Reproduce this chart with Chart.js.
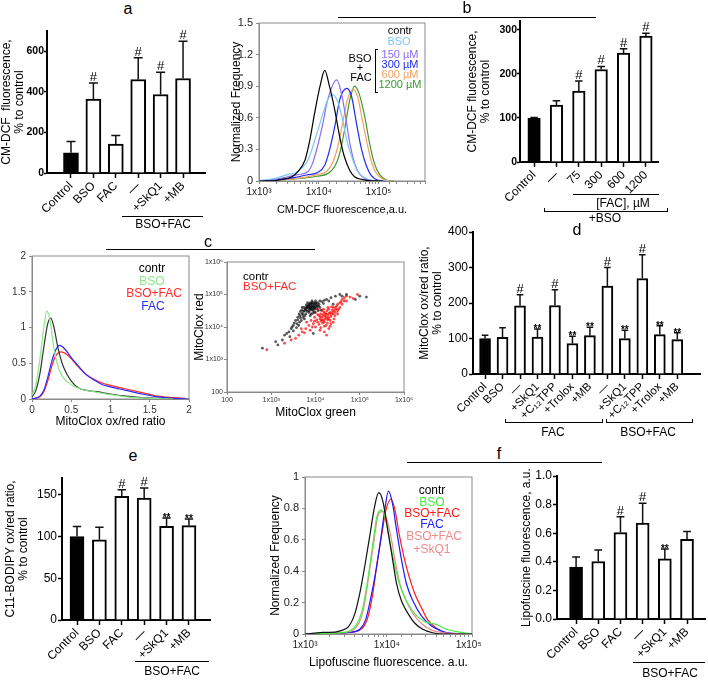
<!DOCTYPE html>
<html>
<head>
<meta charset="utf-8">
<script src="https://cdn.jsdelivr.net/npm/chart.js@4.4.1/dist/chart.umd.min.js"></script>
<style>
body { margin: 0; background: #fff; }
#fig { position: relative; width: 708px; height: 682px; overflow: hidden; font-family: "Liberation Sans", Arial, sans-serif; }
#fig canvas { position: absolute; }
.t { position: absolute; white-space: nowrap; line-height: 1; }
.ln { position: absolute; height: 0; border-top: 1px solid #000; }
</style>
</head>
<body>
<div id="fig"></div>
<script>
// panel a
const aCats = ['Control', 'BSO', 'FAC', '—', '+SkQ1', '+MB'];
const aVals = [100, 365, 143, 461, 387, 466];
const aErr = [55, 79, 42, 107, 110, 183];
const aMarks = ['', '#', '', '#', '#', '#'];
const aTicks = [0, 200, 400, 600];

// panel b, histograms [fluorescence, normalized frequency]
const bHistContr = [[1000, 0], [1900, 0.005], [2400, 0.015], [3550, 0.04], [4470, 0.09], [5900, 0.2], [7100, 0.39], [8500, 0.64], [10500, 0.9], [12600, 1.05], [15100, 0.9], [18600, 0.67], [22400, 0.42], [26900, 0.23], [33100, 0.1], [39800, 0.04], [52500, 0.015], [70000, 0.003], [120000, 0]];
const bHistBso = [[1000, 0.005], [1300, 0.01], [1860, 0.025], [3000, 0.06], [4470, 0.09], [6600, 0.2], [9300, 0.45], [11750, 0.64], [14100, 0.77], [17000, 0.82], [20900, 0.75], [25100, 0.58], [30200, 0.36], [37200, 0.2], [44700, 0.09], [58900, 0.03], [80000, 0.005], [150000, 0]];
const bHist150 = [[1000, 0], [1860, 0.015], [3000, 0.04], [4470, 0.06], [6600, 0.09], [7900, 0.17], [9550, 0.33], [11750, 0.55], [14100, 0.77], [20000, 0.96], [24000, 0.83], [28200, 0.61], [33100, 0.36], [39800, 0.17], [47900, 0.07], [63100, 0.015], [90000, 0]];
const bHist300 = [[1000, 0], [2400, 0.015], [4000, 0.035], [6600, 0.06], [9550, 0.08], [12600, 0.15], [15100, 0.29], [18600, 0.52], [22400, 0.77], [29500, 0.88], [35500, 0.8], [42700, 0.55], [52500, 0.29], [63100, 0.14], [75900, 0.05], [95500, 0.01], [130000, 0]];
const bHist600 = [[1000, 0], [3000, 0.015], [5900, 0.035], [9300, 0.06], [13500, 0.09], [17000, 0.17], [20900, 0.33], [25100, 0.55], [30200, 0.77], [37200, 0.87], [44700, 0.8], [53700, 0.58], [66100, 0.33], [79400, 0.15], [95500, 0.06], [125900, 0.01], [170000, 0]];
const bHist1200 = [[1000, 0], [3000, 0.015], [5900, 0.03], [9300, 0.045], [14100, 0.07], [18600, 0.14], [22400, 0.26], [26900, 0.48], [33100, 0.77], [39800, 0.9], [47900, 0.82], [58900, 0.61], [70800, 0.36], [85100, 0.17], [104700, 0.06], [134900, 0.01], [180000, 0]];
const bFreqTicks = [0, 0.3, 0.6, 0.9, 1.2, 1.5];

// panel b, bars
const bCats = ['Control', '—', '75', '300', '600', '1200'];
const bVals = [99, 129, 161, 210, 247, 286];
const bErr = [2, 10, 23, 7, 10, 6];
const bMarks = ['', '', '#', '#', '#', '#'];
const bTicks = [0, 100, 200, 300];

// panel c, ratio histograms [ratio, frequency]
const cContr = [[0, 0.03], [0.05, 0.12], [0.1, 0.35], [0.15, 0.72], [0.2, 1.05], [0.24, 1.13], [0.28, 1.0], [0.33, 0.72], [0.4, 0.45], [0.5, 0.25], [0.6, 0.15], [0.7, 0.12], [0.85, 0.1], [1.0, 0.07], [1.2, 0.04], [1.4, 0.02], [1.6, 0.01], [1.8, 0]];
const cBso = [[0, 0.05], [0.05, 0.2], [0.1, 0.55], [0.15, 1.0], [0.19, 1.23], [0.23, 1.1], [0.27, 0.78], [0.32, 0.5], [0.38, 0.33], [0.45, 0.24], [0.55, 0.17], [0.65, 0.13], [0.8, 0.1], [1.0, 0.06], [1.2, 0.03], [1.4, 0.015], [1.6, 0.005], [1.8, 0]];
const cBsoFac = [[0, 0], [0.1, 0.03], [0.15, 0.1], [0.2, 0.25], [0.25, 0.45], [0.3, 0.6], [0.37, 0.66], [0.45, 0.62], [0.55, 0.5], [0.65, 0.38], [0.75, 0.3], [0.9, 0.22], [1.0, 0.19], [1.2, 0.14], [1.4, 0.09], [1.6, 0.04], [1.8, 0.02], [1.95, 0.01]];
const cFac = [[0, 0], [0.1, 0.04], [0.15, 0.12], [0.2, 0.3], [0.25, 0.52], [0.3, 0.68], [0.35, 0.75], [0.4, 0.72], [0.5, 0.58], [0.6, 0.45], [0.7, 0.33], [0.8, 0.26], [0.9, 0.2], [1.0, 0.17], [1.2, 0.12], [1.4, 0.07], [1.6, 0.03], [1.8, 0.01], [2, 0]];
const cRatioTicks = [0, 0.5, 1, 1.5, 2];

// panel c, dot plot [log10 green, log10 red]
const cloudContr = [[3.85, 4.62], [3.88, 4.66], [3.9, 4.6], [3.92, 4.7], [3.95, 4.65], [3.97, 4.58], [3.93, 4.55], [3.87, 4.55], [3.82, 4.6], [3.8, 4.52], [3.99, 4.72], [4.02, 4.68], [4.0, 4.62], [3.96, 4.74], [3.9, 4.72], [3.84, 4.68], [4.05, 4.75], [4.08, 4.7], [3.78, 4.58], [3.75, 4.5],
  [3.86, 4.7], [3.91, 4.64], [3.94, 4.61], [3.89, 4.58], [3.83, 4.64], [3.97, 4.68], [4.01, 4.74], [3.93, 4.76], [3.88, 4.74], [4.04, 4.66], [3.8, 4.62], [3.77, 4.55], [3.73, 4.48], [3.81, 4.48], [3.86, 4.5], [3.91, 4.52], [3.99, 4.55], [4.03, 4.6], [4.07, 4.64], [3.96, 4.62], [3.85, 4.58], [3.79, 4.68], [3.74, 4.6], [3.69, 4.52], [3.71, 4.38], [3.63, 4.4], [3.6, 4.22], [3.66, 4.28], [3.52, 4.12], [3.57, 3.98], [3.47, 4.0], [3.64, 4.15], [3.76, 4.35], [3.92, 4.8], [4.0, 4.8], [4.1, 4.8], [4.18, 4.72], [3.9, 4.4], [4.06, 4.5], [3.94, 4.42],
  [3.7, 4.42], [3.65, 4.35], [3.6, 4.3], [3.72, 4.3], [3.68, 4.2], [3.55, 4.2], [3.58, 4.1], [3.5, 4.05], [3.62, 4.05], [3.45, 3.95], [3.5, 3.88], [3.4, 3.85], [3.35, 3.8], [3.3, 3.75], [3.42, 3.7], [3.78, 4.4], [3.85, 4.45], [3.75, 4.25], [3.95, 4.5], [4.1, 4.6], [4.15, 4.78], [4.2, 4.82], [4.25, 4.85], [4.35, 4.9], [4.45, 4.95], [4.55, 5.0], [4.3, 4.8], [4.6, 4.95], [4.7, 5.0], [4.12, 4.52], [3.98, 4.45], [3.88, 4.35], [3.66, 4.48], [3.7, 4.6], [3.82, 4.75],
  [3.15, 3.45], [3.25, 3.6], [2.8, 3.35], [5.15, 4.92], [4.9, 4.85], [5.0, 4.95], [3.1, 3.55], [3.95, 3.8], [4.4, 4.7]];
const cloudBsoFac = [[4.15, 4.3], [4.2, 4.35], [4.25, 4.28], [4.18, 4.2], [4.22, 4.42], [4.28, 4.38], [4.3, 4.25], [4.12, 4.4], [4.1, 4.25], [4.2, 4.15], [4.33, 4.45], [4.26, 4.5], [4.35, 4.32], [4.08, 4.35], [4.15, 4.5], [4.3, 4.55], [4.38, 4.52], [4.4, 4.4], [4.05, 4.15], [4.24, 4.05],
  [4.17, 4.38], [4.23, 4.32], [4.27, 4.22], [4.14, 4.22], [4.19, 4.46], [4.31, 4.42], [4.35, 4.38], [4.11, 4.32], [4.13, 4.18], [4.21, 4.25], [4.29, 4.3], [4.24, 4.4], [4.33, 4.2], [4.38, 4.45], [4.16, 4.12], [4.08, 4.08], [4.27, 4.12], [4.42, 4.5], [4.46, 4.55], [4.48, 4.65], [4.4, 4.6], [4.36, 4.62], [4.55, 4.6], [4.58, 4.78], [4.65, 4.8], [4.03, 4.22], [3.98, 4.18], [3.93, 4.0], [4.12, 3.98], [4.2, 4.02], [4.33, 4.02], [4.05, 4.38], [4.44, 4.35], [4.5, 4.5], [3.88, 3.9], [3.75, 3.82], [4.28, 4.6], [4.18, 4.55],
  [4.45, 4.6], [4.5, 4.7], [4.55, 4.75], [4.6, 4.85], [4.65, 4.9], [4.7, 4.95], [4.78, 4.92], [4.52, 4.55], [4.45, 4.45], [4.42, 4.25], [4.35, 4.1], [4.3, 3.95], [4.2, 3.85], [4.1, 3.9], [4.0, 4.0], [3.95, 4.1], [3.9, 4.2], [3.98, 4.3], [3.85, 4.05], [3.78, 3.95], [3.7, 3.85], [3.62, 3.75], [3.55, 3.65], [3.45, 3.6], [3.68, 3.95], [3.8, 4.15], [4.0, 4.45], [4.05, 4.55], [4.6, 4.7], [4.7, 4.8], [4.85, 4.88], [4.5, 4.4], [4.25, 3.75], [4.4, 4.15],
  [2.9, 3.3], [3.3, 3.5], [4.95, 5.0]];
const cLogTicks = [2, 3, 4, 5, 6];

// panel d
const dCats = ['Control', 'BSO', '—', '+SkQ1', '+C₁₂TPP', '+Trolox', '+MB', '—', '+SkQ1', '+C₁₂TPP', '+Trolox', '+MB'];
const dVals = [100, 103, 192, 104, 193, 86, 108, 248, 100, 269, 111, 97];
const dErr = [9, 27, 31, 23, 44, 20, 24, 52, 23, 67, 25, 19];
const dMarks = ['', '', '#', '**', '#', '**', '**', '#', '**', '#', '**', '**'];
const dTicks = [0, 100, 200, 300, 400];

// panel e
const eCats = ['Control', 'BSO', 'FAC', '—', '+SkQ1', '+MB'];
const eVals = [100, 96, 148, 146, 112, 113];
const eErr = [12, 15, 8, 12, 10, 8];
const eMarks = ['', '', '#', '#', '**', '**'];
const eTicks = [0, 50, 100, 150];

// panel f, histograms [fluorescence, normalized frequency]
const fHistContr = [[1000, 0], [1300, 0.005], [1660, 0.01], [2000, 0.01], [2700, 0.02], [3400, 0.047], [4070, 0.13], [4680, 0.26], [5370, 0.43], [6170, 0.62], [7080, 0.81], [7940, 0.9], [8910, 0.85], [10000, 0.7], [11480, 0.51], [13180, 0.32], [15140, 0.21], [18200, 0.13], [21880, 0.07], [27540, 0.03], [36310, 0.008], [50000, 0], [110000, 0]];
const fHistBso = [[1000, 0], [2000, 0.005], [3000, 0.01], [3550, 0.02], [4270, 0.06], [5000, 0.15], [5750, 0.32], [6610, 0.54], [7590, 0.75], [8510, 0.79], [9550, 0.74], [10960, 0.58], [12590, 0.43], [14450, 0.31], [17380, 0.21], [21880, 0.13], [28840, 0.08], [40740, 0.06], [53700, 0.03], [70790, 0.015], [89130, 0.008], [110000, 0]];
const fHistBsoFac = [[1000, 0], [2000, 0.003], [3500, 0.01], [5000, 0.036], [5890, 0.11], [6760, 0.26], [7590, 0.45], [8710, 0.64], [9770, 0.79], [11220, 0.86], [12590, 0.79], [14130, 0.64], [16220, 0.49], [18620, 0.37], [21880, 0.26], [26920, 0.16], [31620, 0.09], [40740, 0.036], [51290, 0.008], [70000, 0], [110000, 0]];
const fHistFac = [[1000, 0], [2000, 0.003], [3500, 0.01], [4680, 0.03], [5500, 0.09], [6310, 0.22], [7410, 0.41], [8510, 0.62], [9550, 0.81], [10470, 0.91], [11750, 0.83], [13180, 0.66], [15140, 0.47], [17380, 0.32], [20890, 0.21], [26920, 0.11], [35480, 0.05], [47860, 0.017], [60000, 0.005], [110000, 0]];
const fHistSkq1 = [[1000, 0], [2000, 0.005], [3000, 0.01], [3900, 0.025], [4570, 0.07], [5250, 0.17], [6030, 0.37], [6920, 0.58], [7760, 0.75], [8710, 0.78], [9770, 0.75], [11220, 0.62], [12590, 0.47], [14450, 0.32], [16980, 0.22], [20890, 0.13], [26920, 0.064], [35480, 0.025], [50000, 0.008], [110000, 0]];
const fFreqTicks = [0, 0.2, 0.4, 0.6, 0.8, 1];

// panel f, bars
const fCats = ['Control', 'BSO', 'FAC', '—', '+SkQ1', '+MB'];
const fVals = [0.363, 0.402, 0.605, 0.67, 0.42, 0.558];
const fErr = [0.07, 0.08, 0.11, 0.14, 0.07, 0.054];
const fMarks = ['', '', '#', '#', '**', ''];
const fTicks = [0, 0.2, 0.4, 0.6, 0.8, 1.0];

const FONT = '"Liberation Sans", Arial, sans-serif';
const GREY = '#8a8a8a';
const SUP = { 2: '²', 3: '³', 4: '⁴', 5: '⁵', 6: '⁶' };

Chart.defaults.font.family = FONT;
Chart.defaults.color = '#000';
Chart.defaults.animation = false;
Chart.defaults.plugins.legend.display = false;
Chart.defaults.plugins.tooltip.enabled = false;

// whiskers and significance marks above the bars
Chart.register({
  id: 'errorBars',
  afterDatasetsDraw(chart) {
    const ds = chart.data.datasets[0];
    if (!ds.err) return;
    const ctx = chart.ctx, y = chart.scales.y;
    ctx.save();
    ctx.strokeStyle = '#111';
    ctx.fillStyle = '#000';
    ctx.lineWidth = 1.5;
    ctx.textAlign = 'center';
    chart.getDatasetMeta(0).data.forEach((bar, i) => {
      const top = y.getPixelForValue(ds.data[i].y + ds.err[i]);
      const half = bar.width * 0.3;
      ctx.beginPath();
      ctx.moveTo(bar.x, bar.y);
      ctx.lineTo(bar.x, top);
      ctx.moveTo(bar.x - half, top);
      ctx.lineTo(bar.x + half, top);
      ctx.stroke();
      const m = ds.marks[i];
      if (m) {
        ctx.font = m === '#' ? '13px ' + FONT : 'bold 10px ' + FONT;
        ctx.fillText(m, bar.x, m === '#' ? top - 2 : top + 3);
      }
    });
    ctx.restore();
  }
});

// grey box round the flow cytometry plots
Chart.register({
  id: 'frame',
  beforeDatasetsDraw(chart, args, opts) {
    if (!opts.color) return;
    const { ctx, chartArea: c } = chart;
    ctx.save();
    ctx.strokeStyle = opts.color;
    ctx.lineWidth = 1;
    ctx.strokeRect(c.left, c.top, c.right - c.left, c.bottom - c.top);
    ctx.restore();
  }
});

const fig = document.getElementById('fig');

// plot = where the axes sit on the page, pad = room around it for labels
function makeChart(plot, pad, config) {
  const c = document.createElement('canvas');
  const w = plot.r - plot.l + pad.l + pad.r;
  const h = plot.b - plot.t + pad.t + pad.b;
  c.width = w; c.height = h;
  c.style.width = w + 'px'; c.style.height = h + 'px';
  c.style.left = (plot.l - pad.l) + 'px';
  c.style.top = (plot.t - pad.t) + 'px';
  fig.appendChild(c);
  const o = config.options;
  o.responsive = false;
  o.layout = { padding: { left: 0, top: pad.t, right: pad.r, bottom: 0 } };
  o.scales.x.afterFit = s => { s.height = pad.b; s.paddingLeft = 0; s.paddingRight = 0; };
  o.scales.y.afterFit = s => { s.width = pad.l; s.paddingTop = 0; s.paddingBottom = 0; };
  return new Chart(c, config);
}

function fixedTicks(list) {
  return s => { s.ticks = list.map(v => ({ value: v })); };
}

function barAxisX(cats, lo, hi, size) {
  return {
    type: 'linear', min: lo, max: hi, offset: false,
    afterBuildTicks: s => { s.ticks = cats.map((c, i) => ({ value: i })); },
    ticks: { callback: v => cats[v], autoSkip: false, minRotation: 45, maxRotation: 45, padding: 1, color: '#000', font: { size: size } },
    grid: { drawOnChartArea: false, offset: false, tickLength: 5, tickColor: '#000', tickWidth: 1.5 },
    border: { color: '#000', width: 2 }
  };
}

function barAxisY(ticks, max, title, bold, fmt) {
  return {
    min: 0, max: max,
    afterBuildTicks: fixedTicks(ticks),
    ticks: { callback: fmt || (v => v), padding: bold ? 0 : 1, color: '#000', font: { size: bold ? 10.5 : 12, weight: bold ? 'bold' : 'normal' } },
    grid: { drawOnChartArea: false, tickLength: bold ? 3 : 4, tickColor: '#000', tickWidth: 1.5 },
    border: { color: '#000', width: 2 },
    title: { display: true, text: title, color: '#000', font: { size: 12, lineHeight: 1.12 }, padding: 0 }
  };
}

function barChart(plot, pad, cats, vals, errs, marks, bw, lo, hi, yAxis, xSize) {
  return makeChart(plot, pad, {
    type: 'bar',
    data: {
      datasets: [{
        data: cats.map((c, i) => ({ x: i, y: vals[i] })),
        err: errs, marks: marks,
        backgroundColor: cats.map((c, i) => i === 0 ? '#000' : '#fff'),
        borderColor: '#000', borderWidth: 2, barThickness: bw
      }]
    },
    options: { scales: { x: barAxisX(cats, lo, hi, xSize || 12), y: yAxis } }
  });
}

function greyAxis(extra) {
  return Object.assign({
    grid: { drawOnChartArea: false, tickLength: 3, tickColor: GREY, tickWidth: 1 },
    border: { color: GREY, width: 1 }
  }, extra);
}

function powLabel(v) {
  const e = Math.log10(v);
  return Math.abs(e - Math.round(e)) < 1e-6 ? '1x10' + SUP[Math.round(e)] : '';
}

function curveChart(plot, pad, series, xAxis, yAxis) {
  return makeChart(plot, pad, {
    type: 'line',
    data: {
      datasets: series.map(([pts, color]) => ({
        data: pts.map(([x, y]) => ({ x, y })),
        borderColor: color, borderWidth: 1.2, pointRadius: 0,
        cubicInterpolationMode: 'monotone', fill: false
      }))
    },
    options: { plugins: { frame: { color: GREY } }, scales: { x: xAxis, y: yAxis } }
  });
}

const num1 = v => v === 0 ? '0' : v.toFixed(1);

// a
barChart({ l: 47, r: 205, t: 31, b: 173 }, { l: 47, t: 10, r: 5, b: 45 },
  aCats, aVals, aErr, aMarks, 15, -1.07, 5.98,
  barAxisY(aTicks, 700, ['CM-DCF  fluorescence,', '% to control'], true));

// b histogram
curveChart({ l: 259, r: 425, t: 23, b: 181 }, { l: 30, t: 8, r: 8, b: 36 },
  [[bHistContr, '#000'], [bHistBso, '#7cc8f4'], [bHist150, '#8a6cf0'], [bHist300, '#1f2cf0'], [bHist600, '#f4a060'], [bHist1200, '#3a9a30']],
  greyAxis({
    type: 'logarithmic', min: 1000, max: 600000,
    ticks: { callback: powLabel, autoSkip: false, maxRotation: 0, padding: 2, color: '#222', font: { size: 10 } },
    title: { display: true, text: 'CM-DCF fluorescence,a.u.', color: '#000', font: { size: 11 }, padding: 0 }
  }),
  greyAxis({
    min: 0, max: 1.5, afterBuildTicks: fixedTicks(bFreqTicks),
    ticks: { callback: num1, padding: 3, color: '#222', font: { size: 11 } },
    title: { display: true, text: 'Normalized Frequency', color: '#000', font: { size: 12 }, padding: 0 }
  }));

// b bars
barChart({ l: 520, r: 658, t: 21, b: 162 }, { l: 54, t: 8, r: 8, b: 40 },
  bCats, bVals, bErr, bMarks, 12.5, -0.63, 5.54,
  barAxisY(bTicks, 320, ['CM-DCF fluorescence,', '% to control'], true));

// c histogram
curveChart({ l: 32, r: 189, t: 256, b: 399 }, { l: 32, t: 8, r: 8, b: 30 },
  [[cBso, '#88ea88'], [cContr, '#333'], [cFac, '#2a2aff'], [cBsoFac, '#ff2a2a']],
  greyAxis({
    type: 'linear', min: 0, max: 2, afterBuildTicks: fixedTicks(cRatioTicks),
    ticks: { callback: v => String(v), padding: 2, color: '#333', font: { size: 10 } },
    title: { display: true, text: 'MitoClox ox/red ratio', color: '#000', font: { size: 12 }, padding: 0 }
  }),
  greyAxis({
    min: 0, max: 2, afterBuildTicks: fixedTicks(cRatioTicks),
    ticks: { callback: v => String(v), padding: 3, color: '#333', font: { size: 10 } }
  }));

// c dot plot
const logTick = v => v === 2 ? '100' : '1x10' + SUP[v];
makeChart({ l: 227, r: 404, t: 262, b: 392 }, { l: 35, t: 8, r: 10, b: 28 }, {
  type: 'scatter',
  data: {
    datasets: [
      { data: cloudContr.map(([x, y]) => ({ x, y })), backgroundColor: 'rgba(0,0,0,0.65)', pointRadius: 1.4, borderWidth: 0 },
      { data: cloudBsoFac.map(([x, y]) => ({ x, y })), backgroundColor: 'rgba(255,0,0,0.7)', pointRadius: 1.4, borderWidth: 0 }
    ]
  },
  options: {
    plugins: { frame: { color: GREY } },
    scales: {
      x: greyAxis({
        type: 'linear', min: 2, max: 6, afterBuildTicks: fixedTicks(cLogTicks),
        ticks: { callback: logTick, padding: 1, color: '#333', font: { size: 7 } },
        title: { display: true, text: 'MitoClox green', color: '#000', font: { size: 12 }, padding: 0 }
      }),
      y: greyAxis({
        min: 2, max: 6, afterBuildTicks: fixedTicks(cLogTicks),
        ticks: { callback: logTick, padding: 1, color: '#333', font: { size: 7 } },
        title: { display: true, text: 'MitoClox red', color: '#000', font: { size: 12 }, padding: 0 }
      })
    }
  }
});

// d
barChart({ l: 473, r: 700, t: 232, b: 374 }, { l: 55, t: 8, r: 6, b: 48 },
  dCats, dVals, dErr, dMarks, 11, -0.69, 12.3,
  barAxisY(dTicks, 400, ['MitoClox ox/red ratio,', '% to control'], false), 11.5);

// e
barChart({ l: 62, r: 210, t: 478, b: 620 }, { l: 58, t: 8, r: 8, b: 45 },
  eCats, eVals, eErr, eMarks, 14, -0.67, 5.94,
  barAxisY(eTicks, 170, ['C11-BODIPY ox/red ratio,', '% to control'], false));

// f histogram
curveChart({ l: 305, r: 472, t: 477, b: 634 }, { l: 37, t: 8, r: 14, b: 36 },
  [[fHistContr, '#111'], [fHistBso, '#44ee44'], [fHistSkq1, '#f08a8a'], [fHistFac, '#1a1aff'], [fHistBsoFac, '#ff1a1a']],
  greyAxis({
    type: 'logarithmic', min: 1000, max: 110000,
    ticks: { callback: powLabel, autoSkip: false, maxRotation: 0, padding: 2, color: '#222', font: { size: 10 } },
    title: { display: true, text: 'Lipofuscine fluorescence. a.u.', color: '#000', font: { size: 12 }, padding: 0 }
  }),
  greyAxis({
    min: 0, max: 1, afterBuildTicks: fixedTicks(fFreqTicks),
    ticks: { callback: v => v === 0 || v === 1 ? String(v) : v.toFixed(1), padding: 3, color: '#222', font: { size: 11 } },
    title: { display: true, text: 'Normalized Frequency', color: '#000', font: { size: 12 }, padding: 0 }
  }));

// f bars
barChart({ l: 557, r: 705, t: 476, b: 619 }, { l: 37, t: 8, r: 3, b: 45 },
  fCats, fVals, fErr, fMarks, 13, -0.86, 5.81,
  barAxisY(fTicks, 1.0, 'Lipofuscine fluorescence, a.u.', false, v => v.toFixed(1)));

// page text, group rules and legends
function label(str, cx, cy, size, color, left) {
  const d = document.createElement('div');
  d.className = 't';
  d.textContent = str;
  d.style.left = cx + 'px';
  d.style.top = cy + 'px';
  d.style.fontSize = size + 'px';
  d.style.color = color || '#000';
  d.style.transform = left ? 'translate(0,-50%)' : 'translate(-50%,-50%)';
  fig.appendChild(d);
}
function rule(x1, x2, y) {
  const d = document.createElement('div');
  d.className = 'ln';
  d.style.left = x1 + 'px'; d.style.top = y + 'px'; d.style.width = (x2 - x1) + 'px';
  fig.appendChild(d);
}
function bracket(x1, x2, y) {
  const d = document.createElement('div');
  d.style.cssText = 'position:absolute;border:1px solid #000;border-top:none;height:3px;';
  d.style.left = x1 + 'px'; d.style.top = (y - 3) + 'px'; d.style.width = (x2 - x1) + 'px';
  fig.appendChild(d);
}

label('a', 128, 9, 16);
label('b', 467, 8, 16); rule(338, 596, 17);
label('c', 208, 242, 16); rule(106, 315, 249);
label('d', 577, 230, 16);
label('e', 133, 456, 16);
label('f', 499, 454, 16); rule(407, 602, 462);

rule(122, 203, 216); label('BSO+FAC', 163, 224, 12);
rule(573, 659, 194); label('[FAC], µM', 623, 203, 12);
bracket(544, 666, 211); label('+BSO', 605, 218, 12);
bracket(505, 601, 422); label('FAC', 553, 432, 12);
bracket(606, 691, 422); label('BSO+FAC', 648, 432, 12);
rule(135, 209, 661); label('BSO+FAC', 172, 671, 12);
rule(633, 705, 662); label('BSO+FAC', 670, 673, 12);

// b legend
label('contr', 400, 30, 11);
label('BSO', 399, 41, 11, '#7cc8f4');
label('150 µM', 400, 54, 11, '#8a6cf0');
label('300 µM', 400, 64, 11, '#1f2cf0');
label('600 µM', 400, 74, 11, '#f4a060');
label('1200 µM', 400, 84, 11, '#3a9a30');
label('BSO', 360, 58, 11);
label('+', 360, 67, 11);
label('FAC', 361, 77, 11);
const br = document.createElement('div');
br.style.cssText = 'position:absolute;left:375px;top:49px;width:2px;height:42px;border:1px solid #000;border-right:none;';
fig.appendChild(br);

// c legends
label('contr', 152, 268, 12);
label('BSO', 152, 280.5, 12, '#88ea88');
label('BSO+FAC', 154, 293, 12, '#ff2a2a');
label('FAC', 153, 305.5, 12, '#2a2aff');
label('contr', 243, 277, 11.5, '#000', true);
label('BSO+FAC', 243, 286.5, 11.5, '#ff2a2a', true);

// f legend
label('contr', 432, 490, 12);
label('BSO', 432, 502, 12, '#44ee44');
label('BSO+FAC', 432, 513, 12, '#ff1a1a');
label('FAC', 432, 524, 12, '#1a1aff');
label('BSO+FAC', 434, 536, 12, '#f08a8a');
label('+SkQ1', 432, 549, 12, '#f08a8a');
</script>
</body>
</html>
